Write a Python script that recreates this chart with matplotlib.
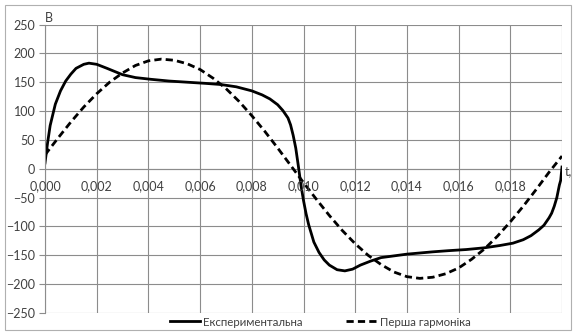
import matplotlib
matplotlib.use("Agg")
import matplotlib.pyplot as plt
from matplotlib.patches import Rectangle
from matplotlib.ticker import MultipleLocator

# Measured voltage over one period (time in s, voltage in V)
t_exp = [0.0000, 0.0001, 0.0002, 0.0004, 0.0006, 0.0008, 0.0010, 0.0012, 0.0015,
         0.0017, 0.0020, 0.0024, 0.0030, 0.0035, 0.0041, 0.0048, 0.0055, 0.0062,
         0.0068, 0.0074, 0.0080, 0.0084, 0.0087, 0.0090, 0.0092, 0.0094, 0.0095,
         0.0096, 0.0097, 0.0098, 0.0099, 0.0100, 0.0101, 0.0102, 0.0104, 0.0106,
         0.0108, 0.0110, 0.0113, 0.0116, 0.0119, 0.0122, 0.0126, 0.0130, 0.0135,
         0.0140, 0.0145, 0.0150, 0.0156, 0.0163, 0.0170, 0.0176, 0.0181, 0.0185,
         0.0188, 0.0191, 0.0193, 0.0195, 0.0196, 0.0197, 0.0198, 0.0199, 0.01995,
         0.0200]
u_exp = [10, 45, 75, 112, 135, 152, 164, 174, 181,
         183, 181, 174, 163, 158, 155, 152, 150, 148,
         146, 142, 135, 128, 121, 111, 101, 88, 76,
         58, 36, 5, -28, -55, -78, -97, -127, -145,
         -158, -167, -175, -177, -174, -167, -160, -154, -151,
         -148, -146, -144, -142, -140, -137, -133, -129, -123,
         -116, -106, -98, -85, -77, -65, -50, -28, -20,
         3]

# First harmonic, sampled every 0.5 ms
t_harm = [i * 0.0005 for i in range(41)]
u_harm = [24, 53, 81, 107, 130, 150, 166, 179, 187, 190,
          188, 182, 172, 157, 139, 117, 92, 65, 36, 6,
          -24, -53, -81, -107, -130, -150, -166, -179, -187, -190,
          -188, -182, -172, -157, -139, -117, -92, -65, -36, -6,
          22]

labels = ["Експериментальна", "Перша гармоніка"]

plt.rcParams["font.family"] = ["Lato", "DejaVu Sans"]
text_col = "#404040"
grid_col = "#8c8c8c"

W, H = 573, 332
fig = plt.figure(figsize=(W / 100, H / 100), dpi=100)
ax = fig.add_axes([45 / W, 1 - 313 / H, 517 / W, 288.5 / H])

ax.plot(t_exp, u_exp, color="black", lw=2.0, label=labels[0], solid_joinstyle="round")
ax.plot(t_harm, u_harm, color="black", lw=2.0, dashes=(2.6, 1.5), label=labels[1])

ax.set_xlim(0, 0.020)
ax.set_ylim(-250, 250)
ax.xaxis.set_major_locator(MultipleLocator(0.002))
ax.yaxis.set_major_locator(MultipleLocator(50))
ax.grid(True, color=grid_col, lw=0.8)
ax.set_axisbelow(True)

for side in ["top", "right", "bottom"]:
    ax.spines[side].set_visible(False)
ax.spines["left"].set_color(grid_col)
ax.spines["left"].set_linewidth(0.8)
ax.axhline(0, color=grid_col, lw=0.8, zorder=0.5)

ax.tick_params(axis="y", length=4, width=0.8, color=grid_col, labelsize=9,
               labelcolor=text_col, pad=3)
ax.tick_params(axis="x", length=0)
ax.set_xticklabels([])

# x tick labels sit under the zero line
for k in range(10):
    tv = k * 0.002
    ax.text(tv, -30, f"{tv:.3f}".replace(".", ","), ha="center", va="center",
            fontsize=9, color=text_col)

ax.text(-0.00005, 1.0, "В", transform=ax.transAxes, ha="left", va="bottom",
        fontsize=9, color=text_col)
ax.annotate("t,", xy=(1.0, 0.5), xycoords="axes fraction", xytext=(2, -2),
            textcoords="offset points", ha="left", va="center",
            fontsize=9, color=text_col)

fig.legend(loc="center", bbox_to_anchor=(320 / W, 1 - 322 / H), ncol=2,
           frameon=False, fontsize=8.3, labelcolor=text_col, handlelength=2.6,
           columnspacing=3.8, handletextpad=0.3, borderaxespad=0)

fig.patches.append(Rectangle((5 / W, 1 - 330 / H), 566 / W, 325 / H,
                             transform=fig.transFigure, fill=False,
                             edgecolor="#b0b0b0", lw=0.8))

fig.savefig("out.png", dpi=100)
